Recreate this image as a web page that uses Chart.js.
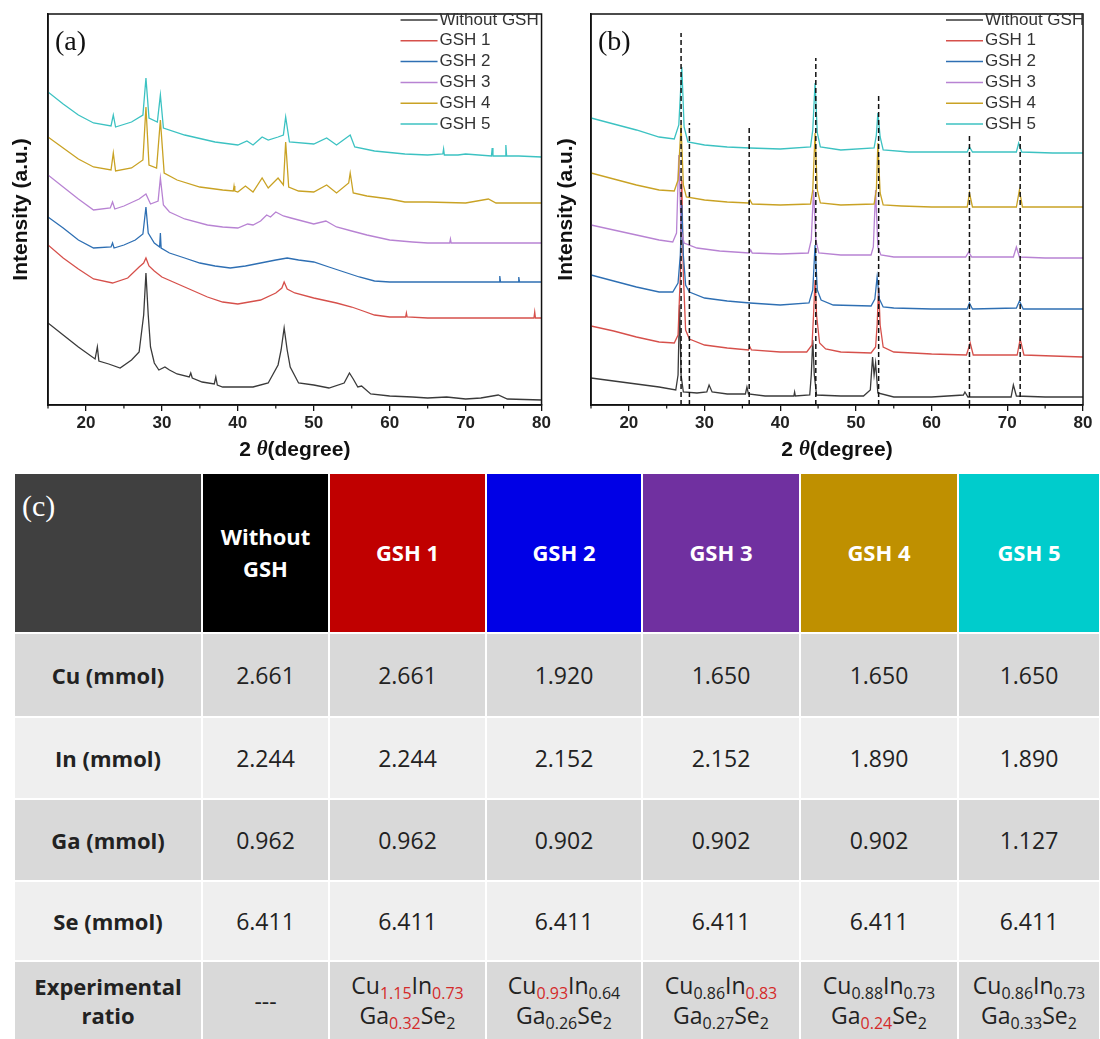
<!DOCTYPE html>
<html>
<head>
<meta charset="utf-8">
<script src="https://cdn.jsdelivr.net/npm/chart.js@4.4.0/dist/chart.umd.min.js"></script>
<style>
  html, body { margin: 0; padding: 0; background: #fff; }
  body { width: 1100px; height: 1039px; position: relative; overflow: hidden; }
  .panel { position: absolute; top: 0; height: 470px; }
  #wrapA { left: 0; width: 553px; }
  #wrapB { left: 545px; width: 555px; }
  #tbl {
    position: absolute; left: 15px; top: 474px;
    display: grid;
    grid-template-columns: 186px 125px 155px 154px 156px 156px 140px;
    grid-template-rows: 158px 82px 80px 80px 78px 77px;
    gap: 2px;
    font-family: "Open Sans", "Noto Sans", sans-serif;
  }
  .cell { display: flex; align-items: center; justify-content: center; text-align: center; color: #222; font-size: 23px; }
  .hd { color: #fff; font-weight: bold; font-size: 22px; line-height: 1.45; }
  .corner { background: #404040; align-items: flex-start; justify-content: flex-start; padding: 10px 0 0 7px;
            font-family: "Liberation Serif", "Times New Roman", serif; font-weight: normal; font-size: 30px; color: #fff; }
  .rowname { font-weight: bold; font-size: 22px; line-height: 1.3; }
  .dark { background: #d9d9d9; }
  .light { background: #efefef; }
  .formula { line-height: 1.3; font-size: 23px; }
  .formula sub { font-size: 16px; vertical-align: -5px; line-height: 0; }
  .hl { color: #d42a2a; }
</style>
</head>
<body>
<div class="panel" id="wrapA"><canvas id="chartA"></canvas></div>
<div class="panel" id="wrapB"><canvas id="chartB"></canvas></div>
<div id="tbl"></div>

<script>
// XRD patterns, [2theta, intensity (a.u., stacked offsets as plotted)]
const seriesNames = ['Without GSH', 'GSH 1', 'GSH 2', 'GSH 3', 'GSH 4', 'GSH 5'];
const seriesColors = ['#3a3a3a', '#d6504b', '#2e6fb3', '#b883d3', '#c9a224', '#3cc2c2'];

// panel (a)
const aWithout = [[15,82],[17,70],[19,58],[21.2,46],[21.5,58],[21.7,44],[23,41],[24.5,37],[26,45],[27,53],[27.6,90],[27.9,132],[28.2,90],[28.5,58],[29,42],[29.6,35],[30.4,38],[31,35],[32,31],[33.6,28],[33.8,32],[34,27],[35.3,23],[36.9,21],[37.1,28],[37.3,20],[38,18],[40,18],[42,18],[44,22],[45.3,40],[45.7,55],[46.1,77],[46.5,55],[46.9,38],[48,22],[50,20],[52,17],[54,22],[54.7,32],[55.2,26],[55.8,18],[56.3,19],[57.5,11],[60,9],[63,8],[65,7],[67.5,8],[70,6],[72,7],[74.3,10],[75.5,6],[80,5]];
const aGSH1 = [[15,160],[17,147],[19,136],[21,126],[23.5,122],[25.5,127],[27,138],[27.6,142],[27.9,147],[28.3,139],[29,134],[30,128],[33,118],[36,108],[38,103],[40,101],[43,105],[45,112],[45.8,117],[46.1,123],[46.5,116],[47.5,112],[50,107],[53,102],[55,98],[56.5,94],[58,90],[60,88],[62.1,88],[62.2,92],[62.3,88],[65,87],[70,87],[75,87],[79,87],[79.1,93],[79.2,87],[80,87]];
const aGSH2 = [[15,188],[17,177],[19,165],[21,157],[23.3,158],[23.5,162],[23.7,157],[25,160],[26.5,165],[27.5,171],[27.9,198],[28.2,172],[29,162],[29.7,158],[29.8,172],[29.9,157],[31,152],[33,147],[35,142],[37,139],[39,137],[41,139],[43,142],[45,145],[46.5,147],[48,145],[50,143],[52,138],[54,133],[56,128],[58,124],[60,123],[65,123],[70,123],[74.4,123],[74.5,129],[74.6,123],[76.9,123],[77,128],[77.1,123],[80,123]];
const aGSH3 = [[15,230],[17,218],[19,206],[21,195],[23.2,197],[23.5,203],[23.8,196],[25,199],[27,206],[27.9,211],[28.5,201],[29.5,204],[29.8,227],[30.2,200],[31,193],[33,186],[36,180],[38,178],[40,177],[41.3,181],[42,180],[43,184],[43.8,190],[44.3,188],[45,193],[46,189],[47,187],[48,185],[50,181],[51.6,184],[53,178],[55,174],[57,170],[60,165],[63,163],[65,162],[67.9,162],[68,166],[68.1,162],[70,162],[75,162],[80,162]];
const aGSH4 = [[15,268],[17,257],[19,246],[21,238],[23.3,235],[23.6,252],[23.9,234],[26,237],[27.5,245],[27.9,298],[28.3,240],[29.3,237],[29.8,285],[30.3,232],[32,225],[35,218],[38,215],[39.4,214],[39.5,219],[39.6,214],[40,213],[41,219],[42,213],[43.2,227],[44,217],[45.3,227],[46,220],[46.3,263],[46.7,218],[48,214],[50,213],[51.7,220],[53,212],[54.6,222],[54.8,232],[55.2,212],[57,209],[60,206],[62,203],[65,203],[70,202],[73,206],[74,202],[80,202]];
const aGSH5 = [[15,313],[17,301],[19,290],[21,282],[23.3,279],[23.6,290],[23.9,278],[26,283],[27.5,290],[27.9,327],[28.3,287],[29.4,283],[29.8,310],[30.2,277],[33,270],[37,263],[40,260],[41.2,264],[42,260],[43.2,268],[44,265],[45.3,268],[46,270],[46.3,288],[46.8,263],[50,261],[51.7,267],[53,260],[54.8,270],[55.4,258],[58,254],[62,251],[65,250],[67,251],[67.1,256],[67.2,250],[69,250],[70,251],[73.4,249],[73.5,257],[73.6,249],[75.2,249],[75.3,260],[75.4,249],[77,249],[80,248]];

// panel (b)
const bWithout = [[15,27],[18,24],[21,21],[24,18],[26.2,15],[26.5,30],[26.7,100],[26.9,30],[27.2,13],[29,12],[30.3,13],[30.6,20],[31,13],[33,11],[35.4,11],[35.6,18],[35.8,11],[38,9],[41.8,9],[41.9,13],[42,9],[43.9,10],[44.1,30],[44.3,65],[44.5,30],[44.8,10],[48,9],[51,9],[51.9,15],[52.2,48],[52.4,30],[52.6,42],[52.9,12],[55,8],[60,8],[64.2,10],[64.4,13],[64.8,8],[70.5,8],[70.8,20],[71.2,9],[75,8],[80,8]];
const bGSH1 = [[15,79],[18,74],[21,68],[24,63],[26,62],[26.5,70],[26.8,130],[27.0,225],[27.2,130],[27.5,75],[28,66],[30,60],[33,57],[35.8,55],[36,58],[36.2,55],[40,53],[43.5,53],[44.2,60],[44.4,90],[44.6,125],[44.8,90],[45.2,62],[46,56],[48,53],[52,52],[52.6,58],[52.8,80],[53.0,118],[53.2,80],[53.6,58],[55,53],[60,51],[64.6,50],[65.1,62],[65.5,50],[71.3,50],[71.7,66],[72.2,50],[76,49],[80,48]];
const bGSH2 = [[15,130],[18,124],[21,118],[24,113],[25.8,113],[26.5,122],[26.8,150],[27.0,200],[27.2,150],[27.5,120],[28,113],[30,107],[33,104],[36,102],[40,100],[43.8,102],[44.3,115],[44.6,160],[44.9,115],[45.4,105],[47,100],[52,99],[52.5,106],[52.8,128],[53.1,106],[53.6,98],[55,97],[60,96],[64.7,96],[65.0,102],[65.4,96],[71.2,97],[71.6,104],[72.1,96],[76,96],[80,96]];
const bGSH3 = [[15,180],[18,175],[21,170],[24,165],[25.8,163],[26.3,172],[26.6,250],[26.9,175],[27.3,162],[29,157],[32,154],[35.9,152],[36.1,155],[36.3,152],[40,151],[43.7,152],[44.1,165],[44.4,215],[44.7,165],[45.1,152],[48,150],[52,150],[52.3,158],[52.6,215],[52.9,158],[53.3,150],[55,148],[60,148],[64.5,148],[64.9,153],[65.3,148],[70.8,148],[71.2,158],[71.6,148],[75,147],[80,147]];
const bGSH4 = [[15,232],[18,226],[21,220],[24,215],[26,214],[26.5,225],[26.9,280],[27.2,220],[27.6,208],[30,205],[33,203],[35.8,202],[36,205],[36.3,201],[40,200],[44,201],[44.3,215],[44.6,272],[44.9,215],[45.3,202],[48,200],[52.4,201],[52.7,215],[52.9,262],[53.2,212],[53.6,200],[56,199],[60,198],[64.7,198],[65.0,212],[65.4,198],[71.2,198],[71.6,215],[72.0,198],[76,198],[80,198]];
const bGSH5 = [[15,287],[18,281],[21,275],[24,268],[26,266],[26.6,280],[27.0,338],[27.3,278],[27.8,263],[30,260],[33,258],[36,257],[40,256],[44,258],[44.3,275],[44.6,322],[44.9,272],[45.3,258],[48,255],[52.4,257],[52.7,270],[52.9,292],[53.2,268],[53.6,255],[57,253],[60,253],[64.7,253],[65.0,258],[65.4,253],[71.2,253],[71.5,262],[71.9,253],[76,252],[80,252]];

// reference reflections drawn as dashed lines in (b): position and top
const dashPositions = [26.9, 28.0, 35.9, 44.7, 53.0, 65.0, 71.7];
const dashTops = [372, 282, 278, 347, 310, 270, 270];

const xMajorTicks = [20, 30, 40, 50, 60, 70, 80];
const xMinorTicks = [15, 25, 35, 45, 55, 65, 75];

// table (c)
const tableCols = ['Without GSH', 'GSH 1', 'GSH 2', 'GSH 3', 'GSH 4', 'GSH 5'];
const headColors = ['#000000', '#c00000', '#0000e6', '#7030a0', '#bf9000', '#00cccc'];
const cuMmol = ['2.661', '2.661', '1.920', '1.650', '1.650', '1.650'];
const inMmol = ['2.244', '2.244', '2.152', '2.152', '1.890', '1.890'];
const gaMmol = ['0.962', '0.962', '0.902', '0.902', '0.902', '1.127'];
const seMmol = ['6.411', '6.411', '6.411', '6.411', '6.411', '6.411'];
const ratioCu = ['1.15', '0.93', '0.86', '0.88', '0.86'];
const ratioIn = ['0.73', '0.64', '0.83', '0.73', '0.73'];
const ratioGa = ['0.32', '0.26', '0.27', '0.24', '0.33'];
// which subscripts are shown in red
const redCu = [true, true, false, false, false];
const redIn = [true, false, true, false, false];
const redGa = [true, false, false, true, false];

const SANS = '"Liberation Sans", Arial, sans-serif';

// frame, minor ticks, panel letter, x title and legend
const panelDecor = {
  id: 'panelDecor',
  afterDatasetsDraw(chart, args, opts) {
    const { ctx, chartArea: a } = chart;
    const xs = chart.scales.x;
    ctx.save();
    ctx.strokeStyle = '#111';
    ctx.lineWidth = 1.5;
    ctx.strokeRect(a.left, a.top, a.right - a.left, a.bottom - a.top);
    ctx.lineWidth = 1.2;
    xMinorTicks.forEach(v => {
      const px = xs.getPixelForValue(v);
      ctx.beginPath();
      ctx.moveTo(px, a.bottom);
      ctx.lineTo(px, a.bottom + 3.5);
      ctx.stroke();
    });

    ctx.fillStyle = '#111';
    ctx.textBaseline = 'middle';
    ctx.font = '28px "Liberation Serif", "Times New Roman", serif';
    ctx.fillText(opts.letter, a.left + 7, a.top + 29);

    // x title: 2 θ(degree) with italic theta
    const parts = [['2 ', 'bold 21px ' + SANS], ['\u03b8', 'italic bold 21px "Liberation Serif", serif'], ['(degree)', 'bold 21px ' + SANS]];
    let total = 0;
    parts.forEach(p => { ctx.font = p[1]; total += ctx.measureText(p[0]).width; });
    let tx = (a.left + a.right) / 2 - total / 2;
    parts.forEach(p => { ctx.font = p[1]; ctx.fillText(p[0], tx, a.bottom + 45); tx += ctx.measureText(p[0]).width; });

    ctx.font = '17px ' + SANS;
    let i = 0;
    chart.data.datasets.forEach(ds => {
      if (ds.isDash) return;
      const y = a.top + 6 + i * 20.8;
      ctx.strokeStyle = ds.borderColor;
      ctx.lineWidth = 1.5;
      ctx.beginPath();
      ctx.moveTo(a.right - opts.legendX, y);
      ctx.lineTo(a.right - opts.legendX + 37, y);
      ctx.stroke();
      ctx.fillStyle = '#333';
      ctx.fillText(ds.label, a.right - opts.legendX + 39, y);
      i++;
    });
    ctx.restore();
  }
};

function makeXrd(canvasId, series, letter, padRight, yWidth, legendX, withDashes) {
  const datasets = series.map((pts, i) => ({
    label: seriesNames[i],
    data: pts.map(p => ({ x: p[0], y: p[1] })),
    borderColor: seriesColors[i],
    borderWidth: 1.3,
    pointRadius: 0,
    tension: 0,
    order: 10 - i
  }));
  if (withDashes) {
    dashPositions.forEach((pos, k) => {
      datasets.push({
        label: '',
        isDash: true,
        data: [{ x: pos, y: 0 }, { x: pos, y: dashTops[k] }],
        borderColor: '#111',
        borderWidth: 1.5,
        borderDash: [5, 3],
        pointRadius: 0,
        order: -1
      });
    });
  }
  return new Chart(document.getElementById(canvasId), {
    type: 'line',
    data: { datasets },
    options: {
      responsive: true,
      maintainAspectRatio: false,
      animation: false,
      devicePixelRatio: 1,
      layout: { padding: { top: 14, right: padRight, left: 0, bottom: 0 } },
      plugins: {
        legend: { display: false },
        tooltip: { enabled: false },
        panelDecor: { letter, legendX }
      },
      scales: {
        x: {
          type: 'linear',
          min: 15,
          max: 80,
          afterBuildTicks: s => { s.ticks = xMajorTicks.map(v => ({ value: v })); },
          afterFit: s => { s.height = 65; },
          grid: { display: true, drawOnChartArea: false, drawTicks: true, tickLength: 6, color: '#111', lineWidth: 1.3 },
          border: { display: true, color: '#111', width: 1.5 },
          ticks: { color: '#222', padding: 2, maxRotation: 0, font: { family: SANS, size: 17, weight: 'bold' } },
          title: { display: false }
        },
        y: {
          min: 0,
          max: 391,
          afterFit: s => { s.width = yWidth; },
          grid: { display: false },
          border: { display: true, color: '#111', width: 1.5 },
          ticks: { display: false },
          title: {
            display: true,
            text: 'Intensity (a.u.)',
            color: '#111',
            padding: { top: 9, bottom: 0 },
            font: { family: SANS, size: 21, weight: 'bold' }
          }
        }
      }
    },
    plugins: [panelDecor]
  });
}

makeXrd('chartA', [aWithout, aGSH1, aGSH2, aGSH3, aGSH4, aGSH5], '(a)', 9, 48, 141, false);
makeXrd('chartB', [bWithout, bGSH1, bGSH2, bGSH3, bGSH4, bGSH5], '(b)', 17, 46, 137, true);

// build table (c)
function sub(v, red) {
  return '<sub' + (red ? ' class="hl"' : '') + '>' + v + '</sub>';
}
const tbl = document.getElementById('tbl');
let html = '<div class="cell hd corner">(c)</div>';
tableCols.forEach((name, i) => {
  const txt = name === 'Without GSH' ? 'Without<br>GSH' : name;
  html += '<div class="cell hd" style="background:' + headColors[i] + '">' + txt + '</div>';
});
const rows = [
  ['Cu (mmol)', cuMmol, 'dark'],
  ['In (mmol)', inMmol, 'light'],
  ['Ga (mmol)', gaMmol, 'dark'],
  ['Se (mmol)', seMmol, 'light']
];
rows.forEach(r => {
  html += '<div class="cell rowname ' + r[2] + '">' + r[0] + '</div>';
  r[1].forEach(v => { html += '<div class="cell ' + r[2] + '">' + v + '</div>'; });
});
html += '<div class="cell rowname dark">Experimental<br>ratio</div>';
html += '<div class="cell dark">---</div>';
ratioCu.forEach((cu, i) => {
  html += '<div class="cell dark formula"><div>Cu' + sub(cu, redCu[i]) + 'In' + sub(ratioIn[i], redIn[i]) +
          '<br>Ga' + sub(ratioGa[i], redGa[i]) + 'Se' + sub('2', false) + '</div></div>';
});
tbl.innerHTML = html;
</script>
</body>
</html>
